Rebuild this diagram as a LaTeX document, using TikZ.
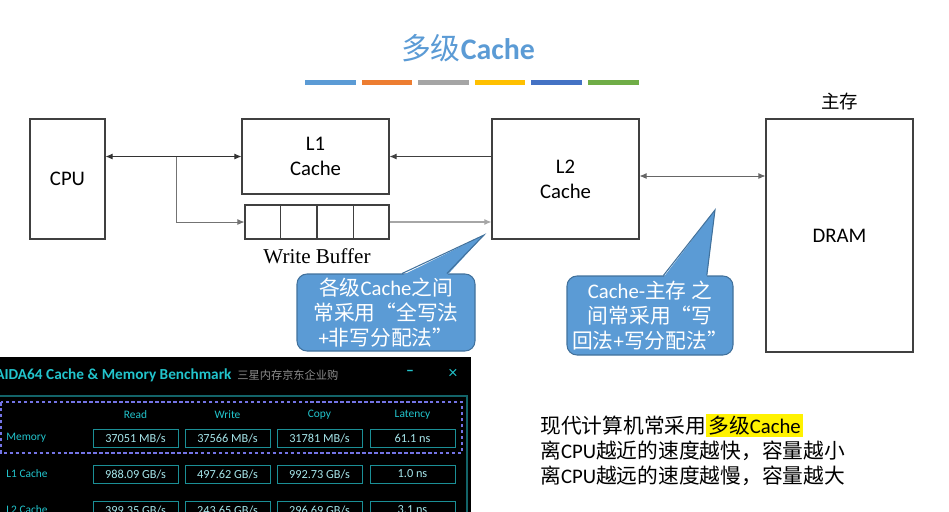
\documentclass[tikz,border=0pt]{standalone}
\usepackage{fontspec}
\setmainfont{Carlito}
\newfontfamily\cjk{Noto Sans CJK SC}
\newfontfamily\wbfont{Liberation Serif}
\usetikzlibrary{calc,positioning,arrows.meta}
\definecolor{titleblue}{HTML}{5B9BD5}
\definecolor{callline}{HTML}{41719C}
\definecolor{bar1}{HTML}{5B9BD5}
\definecolor{bar2}{HTML}{ED7D31}
\definecolor{bar3}{HTML}{A5A5A5}
\definecolor{bar4}{HTML}{FFC000}
\definecolor{bar5}{HTML}{4472C4}
\definecolor{bar6}{HTML}{70AD47}
\definecolor{aidacyan}{HTML}{22C4CC}
\definecolor{aidaline}{HTML}{1B8F96}
\definecolor{aidaval}{HTML}{A6E6EB}
\definecolor{aidadash}{HTML}{7474E6}
\tikzset{blk/.style={draw=black!75,line width=0.6pt,inner sep=0pt,align=center,font=\fontsize{11.8}{14.4}\selectfont},
callout/.style={draw=callline,fill=titleblue,line width=0.6pt,rounded corners=2mm,inner sep=0pt,text=white,align=center,font=\fontsize{11.8}{14.3}\selectfont},
cell/.style={draw=aidaline,line width=0.5pt,minimum width=17mm,minimum height=3.6mm,inner sep=0pt,text=aidaval,font=\fontsize{7}{8}\selectfont},
aidalab/.style={inner sep=0pt,text=aidacyan,font=\fontsize{6.5}{7}\selectfont}}
\def\mbs{MB/s}
\def\gbs{GB/s}
\begin{document}
\begin{tikzpicture}[x=0.2mm,y=-0.2mm,>={Latex[length=4pt,width=3.4pt]}]
\useasboundingbox (0,0) rectangle (949,511);
\node[text=titleblue,font=\fontsize{17}{20}\selectfont] (title) at (468,48) {{\cjk 多级}\textbf{Cache}};
\foreach \c [count=\i from 0] in {bar1,bar2,bar3,bar4,bar5,bar6}
  \fill[\c] (305+\i*56.6,80) rectangle ++(50.5,5);

\node[blk,minimum width=15mm,minimum height=24mm] (cpu) at (67.5,179) {CPU};
\node[blk,minimum width=29.4mm,minimum height=15mm] (l1) at (315.5,156.5) {L1\\Cache};
\node[blk,minimum width=28.8mm,minimum height=6.8mm] (wb) at (317,222) {};
\foreach \i in {1,2,3}
  \draw[black!75,line width=0.6pt] ($(wb.north west)!\i/4!(wb.north east)$) -- ($(wb.south west)!\i/4!(wb.south east)$);
\node[below=1.7mm of wb,inner sep=0pt,font=\wbfont\fontsize{12}{14}\selectfont] (wbl) {Write Buffer};
\node[blk,minimum width=29.4mm,minimum height=24mm] (l2) at (565.5,179) {L2\\Cache};
\node[blk,minimum width=29.4mm,minimum height=46.6mm,
  label={[label distance=0.4mm,font=\cjk\fontsize{10.5}{12}\selectfont]above:主存}] (dram) at (839.5,235.5) {DRAM};

\coordinate (br) at (176,0 |- l1.west);
\draw[<->,black!80,line width=0.5pt] (cpu.east |- l1.west) -- (l1.west);
\draw[->,black!55,line width=0.5pt] (br) |- (wb.west);
\draw[->,black!35,line width=0.6pt] (wb.east) -- (wb.east -| l2.west);
\draw[->,black!75,line width=0.5pt] (l2.west |- l1.east) -- (l1.east);
\draw[<->,black!60,line width=0.5pt] ([yshift=0.6mm]l2.east) -- ([yshift=0.6mm]l2.east -| dram.west);

\node[callout,minimum width=35.6mm,minimum height=15.4mm] (c1) at (386,312.5)
  {{\cjk 各级}Cache{\cjk 之间}\\{\cjk 常采用“全写法}\\+{\cjk 非写分配法”}};
\coordinate (tip1) at (484,235);
\fill[titleblue] ($(c1.north west)!0.59!(c1.north east)+(0,2)$) -- (tip1) -- ($(c1.north west)!0.84!(c1.north east)+(0,2)$) -- cycle;
\draw[callline,line width=0.6pt] ($(c1.north west)!0.59!(c1.north east)$) -- (tip1) -- ($(c1.north west)!0.84!(c1.north east)$);

\node[callout,minimum width=33.2mm,minimum height=15.8mm] (c2) at (650,315.5)
  {Cache-{\cjk 主存 之}\\{\cjk 间常采用“写}\\{\cjk 回法}+{\cjk 写分配法”}};
\coordinate (tip2) at (715,210);
\fill[titleblue] ($(c2.north west)!0.58!(c2.north east)+(0,2)$) -- (tip2) -- ($(c2.north west)!0.84!(c2.north east)+(0,2)$) -- cycle;
\draw[callline,line width=0.6pt] ($(c2.north west)!0.58!(c2.north east)$) -- (tip2) -- ($(c2.north west)!0.84!(c2.north east)$);

\node[anchor=west,inner sep=0pt,align=left,font=\fontsize{11.8}{14.3}\selectfont] (note) at (540,450)
  {{\cjk 现代计算机常采用}{\fboxsep=1.2pt\colorbox{yellow}{{\cjk 多级}Cache}}\\
   {\cjk 离}CPU{\cjk 越近的速度越快，容量越小}\\
   {\cjk 离}CPU{\cjk 越远的速度越慢，容量越大}};

\fill[black] (0,357) rectangle (471,520);
\node[anchor=west,inner sep=0pt,text=aidacyan,font=\bfseries\fontsize{8.7}{10}\selectfont] (aida) at (-5,375) {AIDA64 Cache \& Memory Benchmark};
\node[right=1mm of aida,inner sep=0pt,text=black!45,font=\cjk\fontsize{6.4}{8}\selectfont] (shop) {三星内存京东企业购};
\node[inner sep=0pt,text=aidacyan,font=\bfseries\fontsize{9}{10}\selectfont] (mini) at (410,373) {–};
\node[inner sep=0pt,text=aidacyan,font=\fontsize{10}{10}\selectfont] (close) at (453,374) {×};
\draw[aidaline!70!black,line width=0.6pt] (-2,396) rectangle (467,530);
\draw[aidadash,line width=0.6pt,dash pattern=on 2pt off 1.4pt] (1,402) rectangle (462,453);
\foreach \x/\h in {135.5/Read,227.5/Write,319.5/Copy,412.5/Latency}
  \node[aidalab] (h-\h) at (\x,415) {\h};
\foreach \y/\lab/\va/\vb/\vc/\vd [count=\i] in {438/Memory/37051 \mbs/37566 \mbs/31781 \mbs/61.1 ns,
    474/L1 Cache/988.09 \gbs/497.62 \gbs/992.73 \gbs/1.0 ns,
    510/L2 Cache/399.35 \gbs/243.65 \gbs/296.69 \gbs/3.1 ns}
{
  \node[aidalab,anchor=west] (r\i) at (6,\y) {\lab};
  \node[cell] (v\i-1) at (135.5,\y) {\va};
  \node[cell] (v\i-2) at (227.5,\y) {\vb};
  \node[cell] (v\i-3) at (319.5,\y) {\vc};
  \node[cell] (v\i-4) at (412.5,\y) {\vd};
}
\end{tikzpicture}
\end{document}
